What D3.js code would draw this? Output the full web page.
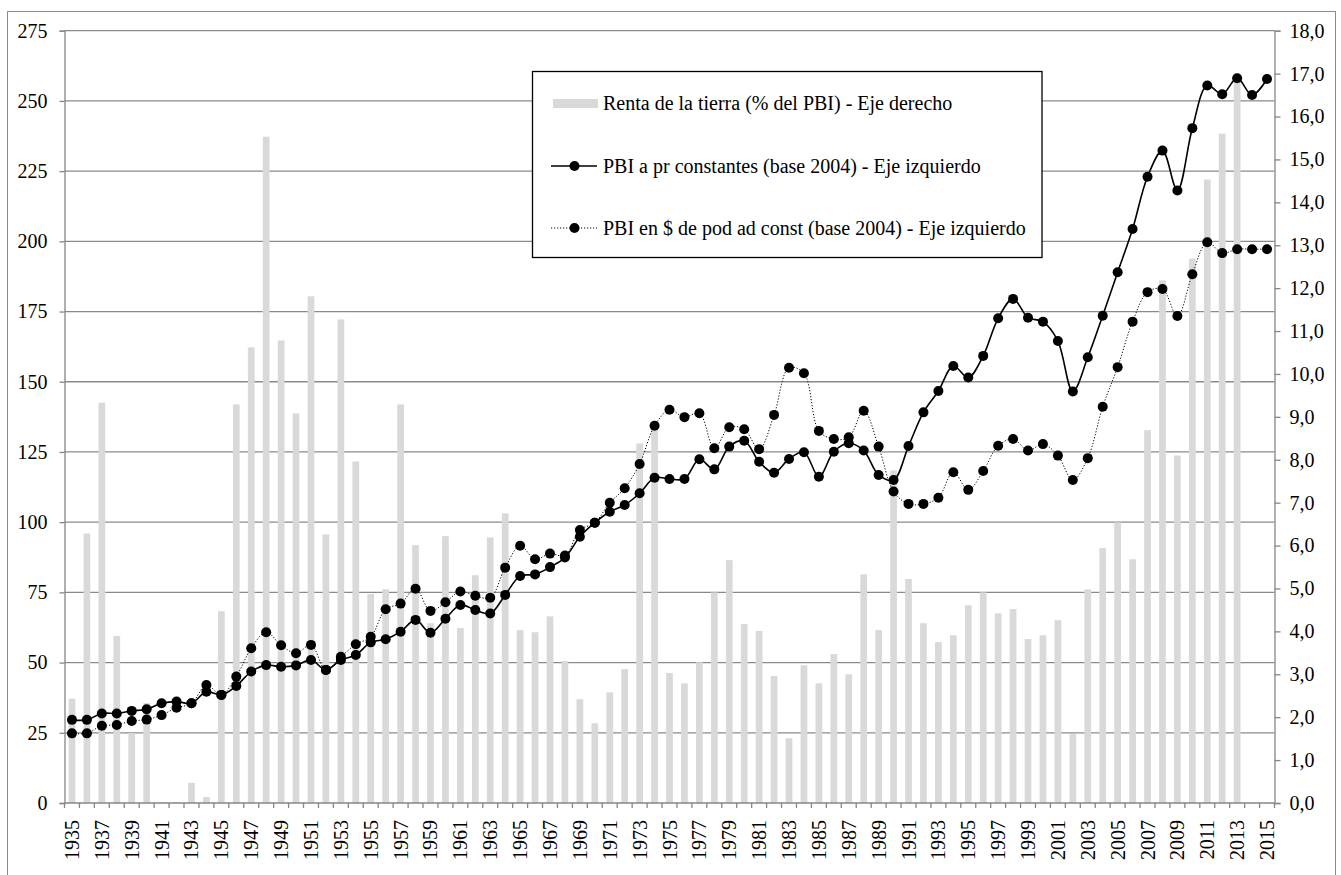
<!DOCTYPE html>
<html>
<head>
<meta charset="utf-8">
<title>Renta de la tierra y PBI</title>
<style>
body {
	margin: 0;
	background-color: #ffffff;
}
text {
	font-family: "Liberation Serif", "Times New Roman", serif;
}
</style>
</head>
<body>
<script src="https://cdn.jsdelivr.net/npm/d3@7"></script>
<script>

// years 1935 - 2015
var years = d3.range(1935, 2016);

// Renta de la tierra (% del PBI) - right axis
var renta = [2.43, 6.28, 9.33, 3.89, 1.63, 2.33, 0.02, 0.02, 0.47, 0.14,
  4.47, 9.29, 10.62, 15.53, 10.78, 9.08, 11.81, 6.26, 11.27, 7.96,
  4.87, 4.98, 9.29, 6.01, 4.19, 6.22, 4.08, 5.31, 6.19, 6.75,
  4.03, 3.98, 4.35, 3.31, 2.42, 1.86, 2.58, 3.12, 8.38, 8.69,
  3.03, 2.79, 3.28, 4.91, 5.66, 4.17, 4.01, 2.96, 1.51, 3.21,
  2.79, 3.47, 3.0, 5.33, 4.03, 7.75, 5.22, 4.19, 3.75, 3.91,
  4.61, 4.91, 4.42, 4.52, 3.82, 3.91, 4.26, 1.61, 4.98, 5.94,
  6.54, 5.68, 8.69, 12.18, 8.10, 12.69, 14.53, 15.6, 17.0, null, null];

// PBI a pr constantes (base 2004) - left axis
var pbiConst = [29.6, 29.6, 31.9, 31.9, 32.8, 33.4, 35.5, 36.1, 35.5, 39.6,
  38.5, 41.7, 46.8, 49.1, 48.5, 49.0, 50.9, 47.4, 50.9, 52.7,
  57.2, 58.3, 61.0, 65.2, 60.6, 65.6, 70.5, 68.7, 67.5, 74.1,
  80.8, 81.4, 84.0, 87.4, 94.8, 99.8, 103.7, 106.1, 110.3, 115.8,
  115.4, 115.4, 122.4, 118.8, 126.9, 129.0, 121.5, 117.6, 122.5, 124.9,
  116.2, 125.1, 128.1, 125.5, 116.8, 115.0, 127.1, 139.1, 146.7, 155.6,
  151.5, 159.2, 172.6, 179.5, 172.8, 171.4, 164.5, 146.5, 158.7, 173.5,
  189.0, 204.4, 223.0, 232.3, 218.1, 240.3, 255.5, 252.4, 258.1, 252.1, 257.8];

// PBI en $ de pod ad const (base 2004) - left axis
var pbiPod = [24.8, 24.8, 27.5, 27.8, 29.2, 29.7, 31.3, 33.9, 35.5, 42.0,
  38.5, 45.0, 55.1, 60.8, 56.2, 53.3, 56.3, 47.4, 52.1, 56.5,
  59.2, 69.0, 71.0, 76.3, 68.4, 71.5, 75.3, 73.8, 73.1, 83.8,
  91.6, 86.8, 88.8, 88.1, 97.2, 99.8, 106.9, 112.1, 120.7, 134.3,
  140.0, 137.4, 138.8, 126.3, 133.8, 133.1, 126.0, 138.2, 155.0, 153.0,
  132.5, 129.6, 130.2, 139.7, 126.9, 110.9, 106.5, 106.5, 108.7, 117.8,
  111.5, 118.2, 127.2, 129.6, 125.5, 127.8, 123.7, 115.0, 122.8, 141.1,
  155.2, 171.4, 181.9, 183.0, 173.4, 188.3, 199.7, 195.8, 197.2, 197.2, 197.2];

var leftTicks = d3.range(0, 276, 25);
var rightTicks = d3.range(0, 19, 1);
var xLabelYears = years.filter(function(d) { return (d - 1935) % 2 === 0; });

var legendLabels = ["Renta de la tierra (% del PBI) - Eje derecho",
  "PBI a pr constantes (base 2004) - Eje izquierdo",
  "PBI en $ de pod ad const (base 2004) - Eje izquierdo"];

var w = 1341;
var h = 875;
var plotLeft = 64.5, plotRight = 1274.5, plotTop = 30.7, plotBottom = 803;
var fontSize = "20px";

var svg = d3.select("body")
            .append("svg")
            .attr("width", w)
            .attr("height", h);

// outer chart border
svg.append("rect")
   .attr("x", 7.5)
   .attr("y", 11.5)
   .attr("width", 1328)
   .attr("height", 880)
   .attr("fill", "none")
   .attr("stroke", "#8c8c8c")
   .attr("stroke-width", 1);

var x = d3.scaleBand()
          .domain(years)
          .range([plotLeft, plotRight])
          .paddingInner(0.55)
          .paddingOuter(0.275);

var xStep = (plotRight - plotLeft) / years.length;
function xc(d) { return x(d) + x.bandwidth() / 2; }

var yL = d3.scaleLinear().domain([0, 275]).range([plotBottom, plotTop]);
var yR = d3.scaleLinear().domain([0, 18]).range([plotBottom, plotTop]);

// gridlines
svg.append("g")
   .selectAll("line")
   .data(leftTicks.slice(1))
   .enter()
   .append("line")
   .attr("x1", plotLeft)
   .attr("x2", plotRight)
   .attr("y1", function(d) { return yL(d); })
   .attr("y2", function(d) { return yL(d); })
   .attr("stroke", "#8a8a8a")
   .attr("stroke-width", 1.3);

// bars
svg.append("g")
   .selectAll("rect")
   .data(years.filter(function(d, i) { return renta[i] !== null; }))
   .enter()
   .append("rect")
   .attr("x", function(d) { return x(d); })
   .attr("width", x.bandwidth())
   .attr("y", function(d) { return yR(renta[d - 1935]); })
   .attr("height", function(d) { return plotBottom - yR(renta[d - 1935]); })
   .attr("fill", "#d9d9d9");

// axes
var comma = function(d) { return d3.format(".1f")(d).replace(".", ","); };

var gl = svg.append("g")
   .attr("transform", "translate(" + plotLeft + ",0)")
   .call(d3.axisLeft(yL).tickValues(leftTicks).tickSize(5).tickPadding(12).tickFormat(d3.format("d")));

var gr = svg.append("g")
   .attr("transform", "translate(" + plotRight + ",0)")
   .call(d3.axisRight(yR).tickValues(rightTicks).tickSize(6).tickPadding(9).tickFormat(comma));

[gl, gr].forEach(function(g) {
  g.select(".domain").attr("stroke", "#868686").attr("stroke-width", 1.3);
  g.selectAll(".tick line").attr("stroke", "#868686").attr("stroke-width", 1.3);
  g.selectAll("text")
   .attr("font-family", "Liberation Serif")
   .attr("font-size", fontSize)
   .attr("fill", "#000");
});

// x axis line and tick marks between categories
svg.append("line")
   .attr("x1", plotLeft).attr("x2", plotRight)
   .attr("y1", plotBottom).attr("y2", plotBottom)
   .attr("stroke", "#868686").attr("stroke-width", 1.3);

svg.append("g")
   .selectAll("line")
   .data(d3.range(years.length + 1))
   .enter()
   .append("line")
   .attr("x1", function(i) { return plotLeft + i * xStep; })
   .attr("x2", function(i) { return plotLeft + i * xStep; })
   .attr("y1", plotBottom)
   .attr("y2", plotBottom + 5)
   .attr("stroke", "#868686")
   .attr("stroke-width", 1.3);

// x labels (rotated)
svg.append("g")
   .selectAll("text")
   .data(xLabelYears)
   .enter()
   .append("text")
   .text(function(d) { return d; })
   .attr("transform", function(d) { return "translate(" + xc(d) + "," + (plotBottom + 17) + ") rotate(-90)"; })
   .attr("dy", "0.35em")
   .attr("text-anchor", "end")
   .attr("font-size", fontSize)
   .attr("fill", "#000");

// lines
var curve = d3.curveCatmullRom.alpha(0.5);

var lineL = d3.line()
   .x(function(d, i) { return xc(years[i]); })
   .y(function(d) { return yL(d); })
   .curve(curve);

svg.append("path")
   .datum(pbiConst)
   .attr("d", lineL)
   .attr("fill", "none")
   .attr("stroke", "#000")
   .attr("stroke-width", 1.6);

svg.append("path")
   .datum(pbiPod)
   .attr("d", lineL)
   .attr("fill", "none")
   .attr("stroke", "#000")
   .attr("stroke-width", 1)
   .attr("stroke-dasharray", "1.2,1.8");

[pbiConst, pbiPod].forEach(function(series) {
  svg.append("g")
     .selectAll("circle")
     .data(series)
     .enter()
     .append("circle")
     .attr("cx", function(d, i) { return xc(years[i]); })
     .attr("cy", function(d) { return yL(d); })
     .attr("r", 5)
     .attr("fill", "#000");
});

// legend
var lg = svg.append("g");
lg.append("rect")
  .attr("x", 532.5)
  .attr("y", 71.5)
  .attr("width", 509.5)
  .attr("height", 186)
  .attr("fill", "#fff")
  .attr("stroke", "#000")
  .attr("stroke-width", 1.3);

var rowY = [103.5, 166, 228];

lg.append("rect")
  .attr("x", 553).attr("y", rowY[0] - 4.5)
  .attr("width", 45).attr("height", 9)
  .attr("fill", "#d9d9d9");

lg.append("line")
  .attr("x1", 551).attr("x2", 597)
  .attr("y1", rowY[1]).attr("y2", rowY[1])
  .attr("stroke", "#000").attr("stroke-width", 1.6);

lg.append("line")
  .attr("x1", 551).attr("x2", 597)
  .attr("y1", rowY[2]).attr("y2", rowY[2])
  .attr("stroke", "#000").attr("stroke-width", 1)
  .attr("stroke-dasharray", "1.2,1.8");

lg.selectAll("circle")
  .data([rowY[1], rowY[2]])
  .enter()
  .append("circle")
  .attr("cx", 574.5)
  .attr("cy", function(d) { return d; })
  .attr("r", 5)
  .attr("fill", "#000");

lg.selectAll("text")
  .data(legendLabels)
  .enter()
  .append("text")
  .text(function(d) { return d; })
  .attr("x", 603)
  .attr("y", function(d, i) { return rowY[i]; })
  .attr("dy", "0.33em")
  .attr("font-size", fontSize)
  .attr("fill", "#000");

</script>
</body>
</html>
